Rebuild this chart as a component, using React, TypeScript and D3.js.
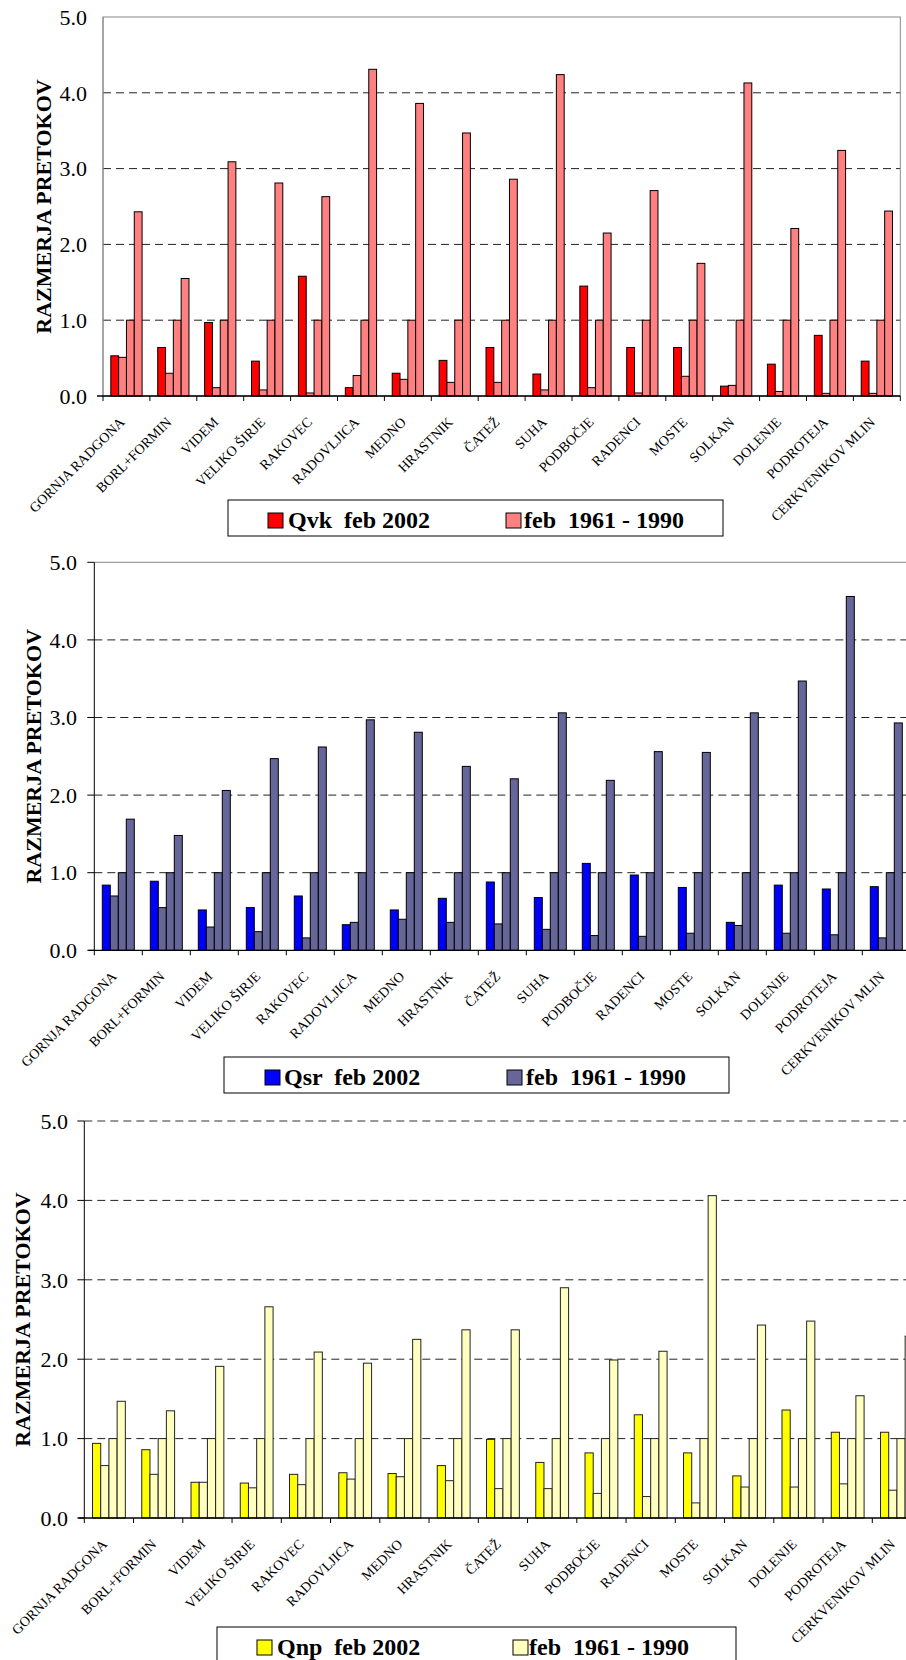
import React from "react";
import * as d3 from "d3";

const categories = [
  "GORNJA RADGONA", "BORL+FORMIN", "VIDEM", "VELIKO ŠIRJE", "RAKOVEC", "RADOVLJICA",
  "MEDNO", "HRASTNIK", "ČATEŽ", "SUHA", "PODBOČJE", "RADENCI", "MOSTE", "SOLKAN",
  "DOLENJE", "PODROTEJA", "CERKVENIKOV MLIN",
];

const yTicks = [0, 1, 2, 3, 4, 5];

// Qvk (high flows)
const qvk2002 = [0.53, 0.64, 0.97, 0.46, 1.58, 0.11, 0.30, 0.47, 0.64, 0.29, 1.45, 0.64, 0.64, 0.13, 0.42, 0.80, 0.46];
const qvkMin = [0.51, 0.30, 0.11, 0.08, 0.04, 0.27, 0.22, 0.18, 0.18, 0.08, 0.11, 0.04, 0.26, 0.14, 0.06, 0.035, 0.035];
const qvkAvg = [1, 1, 1, 1, 1, 1, 1, 1, 1, 1, 1, 1, 1, 1, 1, 1, 1];
const qvkMax = [2.43, 1.55, 3.09, 2.81, 2.63, 4.31, 3.86, 3.47, 2.86, 4.24, 2.15, 2.71, 1.75, 4.13, 2.21, 3.24, 2.44];

// Qsr (mean flows)
const qsr2002 = [0.84, 0.89, 0.52, 0.55, 0.70, 0.33, 0.52, 0.67, 0.88, 0.68, 1.12, 0.97, 0.81, 0.36, 0.84, 0.79, 0.82];
const qsrMin = [0.70, 0.55, 0.30, 0.24, 0.16, 0.36, 0.40, 0.36, 0.34, 0.27, 0.19, 0.18, 0.22, 0.32, 0.22, 0.20, 0.16];
const qsrAvg = [1, 1, 1, 1, 1, 1, 1, 1, 1, 1, 1, 1, 1, 1, 1, 1, 1];
const qsrMax = [1.69, 1.48, 2.06, 2.47, 2.62, 2.97, 2.81, 2.37, 2.21, 3.06, 2.19, 2.56, 2.55, 3.06, 3.47, 4.56, 2.93];

// Qnp (low flows)
const qnp2002 = [0.94, 0.86, 0.45, 0.44, 0.55, 0.57, 0.56, 0.66, 0.99, 0.70, 0.82, 1.30, 0.82, 0.53, 1.36, 1.08, 1.08];
const qnpMin = [0.66, 0.55, 0.45, 0.38, 0.42, 0.49, 0.52, 0.47, 0.37, 0.37, 0.31, 0.27, 0.19, 0.39, 0.39, 0.43, 0.35];
const qnpAvg = [1, 1, 1, 1, 1, 1, 1, 1, 1, 1, 1, 1, 1, 1, 1, 1, 1];
const qnpMax = [1.47, 1.35, 1.91, 2.66, 2.09, 1.95, 2.25, 2.37, 2.37, 2.90, 1.99, 2.10, 4.06, 2.43, 2.48, 1.54, 2.29];

const legendRef = "feb  1961 - 1990";
const yTitle = "RAZMERJA PRETOKOV";

const SERIF = "'Liberation Serif', 'Times New Roman', Times, serif";

type Panel = {
  cur: number[]; min: number[]; avg: number[]; max: number[];
  curColor: string; refColor: string; stroke: string;
  legendLabel: string;
  x0: number; band: number; yTop: number; yZero: number;
  frame: "box" | "top" | "topDashed";
  leftAxisColor: string; leftTicks: boolean;
  labelRight: number; titleX: number;
  legend: { x: number; y: number; w: number; h: number; sq1: number; t1: number; sq2: number; t2: number; base: number };
};

function BarPanel({ p }: { p: Panel }) {
  const x = d3.scaleBand<string>().domain(categories).range([p.x0, p.x0 + p.band * categories.length]).paddingInner(0).paddingOuter(0);
  const bw = x.bandwidth();
  const sub = d3.scaleBand<string>().domain(["cur", "min", "avg", "max"]).range([bw / 6, (bw * 5) / 6]);
  const y = d3.scaleLinear().domain([0, 5]).range([p.yZero, p.yTop]);
  const fmt = d3.format(".1f");
  const xEnd = p.x0 + p.band * categories.length;
  const series: { key: string; vals: number[]; color: string }[] = [
    { key: "cur", vals: p.cur, color: p.curColor },
    { key: "min", vals: p.min, color: p.refColor },
    { key: "avg", vals: p.avg, color: p.refColor },
    { key: "max", vals: p.max, color: p.refColor },
  ];
  const L = p.legend;
  const sqSize = 15;
  return (
    <g>
      {yTicks.filter((t) => t > 0 && t < 5).map((t) => (
        <line key={"g" + t} x1={p.x0} x2={xEnd} y1={y(t)} y2={y(t)} stroke="#222" strokeWidth={1} strokeDasharray="8 5" />
      ))}
      {p.frame === "box" && (
        <rect x={p.x0} y={y(5)} width={xEnd - p.x0} height={y(0) - y(5)} fill="none" stroke="#888" strokeWidth={1} />
      )}
      {p.frame === "top" && <line x1={p.x0} x2={xEnd} y1={y(5)} y2={y(5)} stroke="#888" strokeWidth={1} />}
      {p.frame === "topDashed" && (
        <line x1={p.x0} x2={xEnd} y1={y(5)} y2={y(5)} stroke="#777" strokeWidth={1.5} strokeDasharray="8 5" />
      )}
      {series.map((s) =>
        categories.map((c, i) => (
          <rect
            key={s.key + i}
            x={(x(c) as number) + (sub(s.key) as number)}
            y={y(s.vals[i])}
            width={sub.bandwidth()}
            height={y(0) - y(s.vals[i])}
            fill={s.color}
            stroke={p.stroke}
            strokeWidth={1}
          />
        ))
      )}
      <line x1={p.x0} x2={p.x0} y1={y(5)} y2={y(0)} stroke={p.leftAxisColor} strokeWidth={1} />
      {p.leftTicks &&
        yTicks.map((t) => (
          <line key={"lt" + t} x1={p.x0 - 7} x2={p.x0} y1={y(t)} y2={y(t)} stroke="#000" strokeWidth={1} />
        ))}
      <line x1={p.x0 - 6} x2={xEnd} y1={y(0)} y2={y(0)} stroke="#000" strokeWidth={1.3} />
      {d3.range(categories.length + 1).map((i) => (
        <line key={"xt" + i} x1={p.x0 + i * bw} x2={p.x0 + i * bw} y1={y(0)} y2={y(0) + 5} stroke="#000" strokeWidth={1} />
      ))}
      {yTicks.map((t) => (
        <text key={"yl" + t} x={p.labelRight} y={y(t)} dy="0.35em" textAnchor="end" fontFamily={SERIF} fontSize={22} fill="#000">
          {fmt(t)}
        </text>
      ))}
      <text
        transform={`translate(${p.titleX},${(y(0) + y(5)) / 2}) rotate(-90)`}
        textAnchor="middle"
        dominantBaseline="central"
        fontFamily={SERIF}
        fontWeight="bold"
        fontSize={22}
        fill="#000"
      >
        {yTitle}
      </text>
      {categories.map((c) => (
        <text
          key={"xl" + c}
          transform={`translate(${(x(c) as number) + bw / 2 - 1},${y(0) + 27}) rotate(-45)`}
          textAnchor="end"
          fontFamily={SERIF}
          fontSize={14}
          fill="#000"
        >
          {c}
        </text>
      ))}
      <rect x={L.x} y={L.y} width={L.w} height={L.h} fill="#fff" stroke="#000" strokeWidth={1} />
      <rect x={L.sq1} y={L.base - sqSize} width={sqSize} height={sqSize} fill={p.curColor} stroke="#000" strokeWidth={1} />
      <text x={L.t1} y={L.base} fontFamily={SERIF} fontWeight="bold" fontSize={24} fill="#000" style={{ whiteSpace: "pre" }}>
        {p.legendLabel}
      </text>
      <rect x={L.sq2} y={L.base - sqSize} width={sqSize} height={sqSize} fill={p.refColor} stroke="#000" strokeWidth={1} />
      <text x={L.t2} y={L.base} fontFamily={SERIF} fontWeight="bold" fontSize={24} fill="#000" style={{ whiteSpace: "pre" }}>
        {legendRef}
      </text>
    </g>
  );
}

const panels: Panel[] = [
  {
    cur: qvk2002, min: qvkMin, avg: qvkAvg, max: qvkMax,
    curColor: "#FF0000", refColor: "#FF8080", stroke: "#000",
    legendLabel: "Qvk  feb 2002",
    x0: 103, band: 46.9, yTop: 17, yZero: 396,
    frame: "box", leftAxisColor: "#888", leftTicks: false,
    labelRight: 87, titleX: 43,
    legend: { x: 228, y: 500, w: 495, h: 36, sq1: 268, t1: 288, sq2: 506, t2: 524, base: 528 },
  },
  {
    cur: qsr2002, min: qsrMin, avg: qsrAvg, max: qsrMax,
    curColor: "#0000FF", refColor: "#666699", stroke: "#000",
    legendLabel: "Qsr  feb 2002",
    x0: 94.3, band: 48, yTop: 562.3, yZero: 950.3,
    frame: "top", leftAxisColor: "#000", leftTicks: true,
    labelRight: 77, titleX: 33,
    legend: { x: 224, y: 1057, w: 505, h: 36, sq1: 265, t1: 284, sq2: 507, t2: 526, base: 1085 },
  },
  {
    cur: qnp2002, min: qnpMin, avg: qnpAvg, max: qnpMax,
    curColor: "#FFFF00", refColor: "#FFFFC0", stroke: "#222",
    legendLabel: "Qnp  feb 2002",
    x0: 84.3, band: 49.25, yTop: 1121, yZero: 1518,
    frame: "topDashed", leftAxisColor: "#000", leftTicks: true,
    labelRight: 68, titleX: 22,
    legend: { x: 217, y: 1627, w: 519, h: 40, sq1: 257, t1: 277, sq2: 513, t2: 529, base: 1655 },
  },
];

export default function App() {
  return (
    <svg
      width={906}
      height={1660}
      viewBox="0 0 906 1660"
      style={{ position: "absolute", left: 0, top: 0, background: "#fff" }}
    >
      <rect x={0} y={0} width={906} height={1660} fill="#fff" />
      {panels.map((p, i) => (
        <BarPanel key={i} p={p} />
      ))}
    </svg>
  );
}
